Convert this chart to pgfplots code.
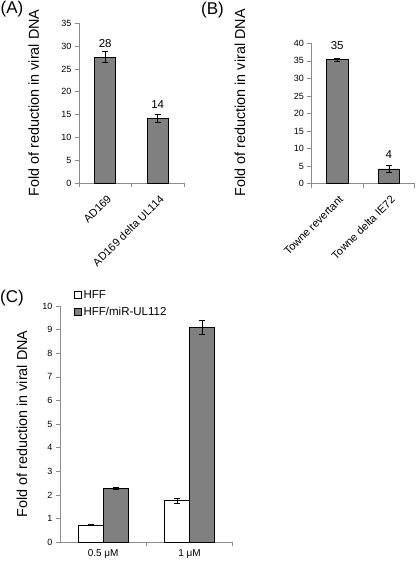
\documentclass[border=0pt]{standalone}
\usepackage{pgfplots}
\pgfplotsset{compat=1.18}
\usepackage{fontspec}
\setmainfont{Liberation Sans}

\definecolor{bargray}{RGB}{128,128,128}
\definecolor{axgray}{RGB}{140,140,140}

\pgfplotsset{
  panel/.style={
    scale only axis,
    axis x line=bottom, axis y line=left,
    axis line style={-, draw=axgray, line width=0.6pt},
    ymin=0,
    xmin=-0.5, xmax=1.5,
    xtick={0,1},
    xtick style={draw=none},
    extra x ticks={-0.5,0.5,1.5},
    extra x tick labels={},
    extra x tick style={xtick style={draw=axgray, line width=0.6pt}, tick align=outside, major tick length=4pt},
    ytick style={draw=axgray, line width=0.6pt},
    tick align=outside, major tick length=4pt,
    /pgf/number format/assume math mode=true,
    yticklabel style={font=\fontsize{9}{10}\selectfont},
    every axis y label/.style={rotate=90, anchor=center, font=\fontsize{14.4}{16}\selectfont},
    clip=false,
  },
  catlab/.style={xticklabel style={rotate=45, anchor=east, font=\fontsize{11}{12}\selectfont, inner sep=1pt, xshift=-3pt, yshift=-10pt}},
  valbars/.style={
    nodes near coords, point meta=explicit symbolic,
    every node near coord/.append style={anchor=center, yshift=14pt, font=\fontsize{11.5}{13}\selectfont, black},
  },
  errstyle/.style={error bars/.cd, y dir=both, y explicit,
    error bar style={black, line width=0.7pt},
    error mark options={rotate=90, mark size=3pt, black, line width=0.7pt}},
}

\begin{document}
\begin{tikzpicture}
\path[use as bounding box] (0,0) rectangle (416pt,562pt);

% Panel A
\begin{axis}[panel, catlab, valbars,
  at={(79pt,379pt)}, anchor=south west,
  width=105pt, height=159.7pt,
  ymax=35, ytick={0,5,...,35},
  xticklabels={AD169, AD169 delta UL114},
  ylabel={Fold of reduction in viral DNA},
  ylabel style={at={(axis description cs:-0.43,0.5)}},
]
\addplot[ybar, bar width=21pt, fill=bargray, draw=black, line width=0.8pt,
  errstyle] table[x=x, y=y, y error=e, meta=lab] {
x y e lab
0 27.6 1.2 28
1 14.1 0.9 14
};
\end{axis}

% Panel B
\begin{axis}[panel, catlab, valbars,
  at={(311.3pt,378.3pt)}, anchor=south west,
  width=103.4pt, height=140.4pt,
  ymax=40, ytick={0,5,...,40},
  xticklabels={Towne revertant, Towne delta IE72},
  ylabel={Fold of reduction in viral DNA},
  ylabel style={at={(axis description cs:-0.69,0.575)}},
]
\addplot[ybar, bar width=21.5pt, fill=bargray, draw=black, line width=0.8pt,
  errstyle] table[x=x, y=y, y error=e, meta=lab] {
x y e lab
0 35.3 0.5 35
1 4.2 1.0 4
};
\end{axis}

% Panel C
\begin{axis}[panel,
  at={(60pt,19.7pt)}, anchor=south west,
  width=172.7pt, height=236.3pt,
  ymax=10, ytick={0,1,...,10},
  extra x ticks={0.5,1.5},
  xticklabels={0.5 μM, 1 μM},
  xticklabel style={font=\fontsize{10}{12}\selectfont},
  ylabel={Fold of reduction in viral DNA},
  ylabel style={at={(axis description cs:-0.22,0.5)}},
  ybar=0pt, bar width=25pt,
  legend cell align=left,
  legend image code/.code={\draw[#1, line width=0.6pt] (0pt,-3.5pt) rectangle (7pt,3.5pt);},
  legend style={draw=none, fill=none, at={(axis description cs:0.08,1.075)}, anchor=north west,
    font=\fontsize{11.5}{13}\selectfont, row sep=3pt, inner sep=0pt},
]
\addplot[fill=white, draw=black, line width=0.8pt, errstyle]
  table[x=x, y=y, y error=e] {
x y e
0 0.73 0.03
1 1.76 0.10
};
\addlegendentry{HFF}
\addplot[fill=bargray, draw=black, line width=0.8pt, errstyle]
  table[x=x, y=y, y error=e] {
x y e
0 2.27 0.05
1 9.10 0.30
};
\addlegendentry{HFF/miR-UL112}
\end{axis}

\node[font=\fontsize{17}{19}\selectfont] at (12pt,553pt) {(A)};
\node[font=\fontsize{17}{19}\selectfont] at (212.5pt,552pt) {(B)};
\node[font=\fontsize{17}{19}\selectfont] at (12pt,264pt) {(C)};
\end{tikzpicture}
\end{document}
